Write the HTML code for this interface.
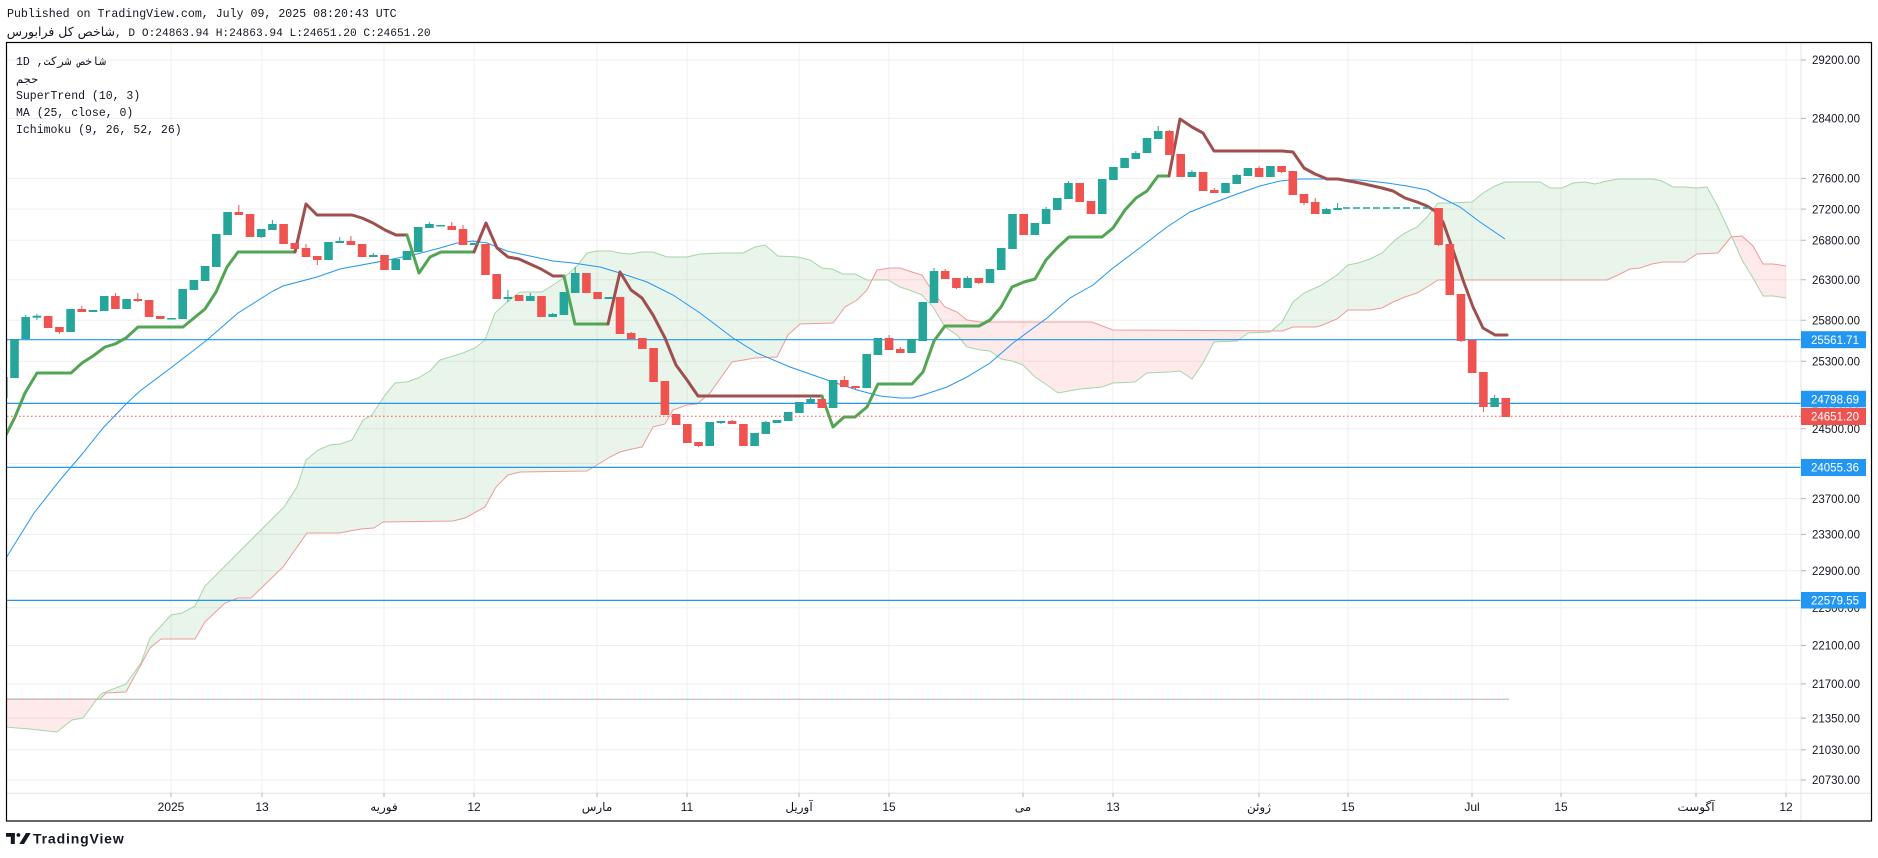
<!DOCTYPE html>
<html><head><meta charset="utf-8"><style>
body{margin:0;width:1878px;height:858px;background:#fff;position:relative;overflow:hidden}
svg{position:absolute;left:0;top:0}
.t{position:absolute;white-space:nowrap;font-family:"Liberation Mono","DejaVu Sans Mono","DejaVu Sans",monospace;color:#131722;line-height:14px}
</style></head><body>
<svg width="1878" height="858" xmlns="http://www.w3.org/2000/svg">
<defs>
<clipPath id="pane"><rect x="7" y="43" width="1794" height="750"/></clipPath>
<clipPath id="belowA"><polygon points="6,727 29,729 57,732 72,720 83,718 100,695 103,693 126,684 141,663 150,638 171,615 182,613 195,606 205,586 241,550 284,507 297,487 306,460 318,450 330,445 340,444 352,440 363,420 372,415 385,395 395,383 407,382 418,378 430,371 440,360 450,357 463,353 475,348 485,340 495,313 507,302 520,292 542,292 553,285 565,277 577,266 587,253 597,251 610,251 620,253 630,254 642,252 653,252 667,257 687,257 700,254 720,253 743,253 755,247 765,245 778,256 798,257 810,260 822,268 832,269 843,274 855,274 867,280 888,280 900,287 912,291 922,295 933,307 945,327 957,335 967,347 980,350 990,351 1001,359 1012,361 1023,365 1035,377 1047,385 1058,393 1080,389 1102,387 1113,383 1135,382 1147,373 1170,372 1180,371 1192,379 1203,363 1214,342 1237,341 1248,333 1270,332 1282,322 1293,302 1304,293 1315,288 1320,286 1337,275 1348,265 1358,263 1370,259 1382,253 1395,240 1405,233 1417,227 1427,217 1438,203 1450,203 1472,202 1483,193 1495,186 1505,182 1540,182 1550,188 1562,188 1573,183 1585,182 1595,184 1607,181 1618,179 1653,179 1662,181 1673,187 1685,187 1697,188 1707,187 1718,207 1731,235 1742,260 1753,278 1763,296 1773,296 1786,298 1786,900 6,900"/></clipPath>
<clipPath id="belowB"><polygon points="6,699 100,699 106,693 126,692 138,670 150,648 161,639 195,639 205,622 225,603 238,598 251,598 283,567 307,533 339,533 361,529 374,528 383,522 453,521 465,518 485,507 496,487 508,475 520,472 587,471 597,465 610,457 620,452 632,449 642,447 653,427 665,424 673,410 687,405 697,404 710,393 732,362 755,358 777,357 788,335 800,324 833,323 845,307 857,300 867,290 877,270 890,268 900,268 912,272 922,275 933,292 945,307 957,312 967,320 980,322 1092,322 1113,330 1282,331 1293,327 1315,327 1320,326 1337,319 1348,310 1370,310 1382,308 1393,302 1405,297 1417,293 1427,287 1438,280 1607,280 1618,275 1630,269 1640,268 1652,264 1663,262 1685,262 1697,254 1718,253 1731,237 1742,236 1753,246 1763,264 1773,264 1786,266 1786,900 6,900"/></clipPath>
</defs>
<rect width="1878" height="858" fill="#fff"/>
<g clip-path="url(#pane)">
<g stroke="#efefef" stroke-width="1">
<path d="M7 60H1801M7 118.4H1801M7 178.4H1801M7 209.1H1801M7 240.2H1801M7 279.8H1801M7 320.2H1801M7 361.3H1801M7 403.2H1801M7 428.8H1801M7 463.4H1801M7 498.6H1801M7 534.4H1801M7 570.8H1801M7 607.8H1801M7 645.5H1801M7 683.9H1801M7 718.1H1801M7 749.8H1801M7 780H1801"/>
<path d="M171 43V793M262 43V793M384 43V793M474 43V793M597 43V793M687 43V793M799 43V793M889 43V793M1023 43V793M1113 43V793M1259 43V793M1348 43V793M1472 43V793M1561 43V793M1696 43V793M1786 43V793"/>
</g>
<polygon clip-path="url(#belowA)" fill="rgba(76,175,80,0.12)" points="6,699 100,699 106,693 126,692 138,670 150,648 161,639 195,639 205,622 225,603 238,598 251,598 283,567 307,533 339,533 361,529 374,528 383,522 453,521 465,518 485,507 496,487 508,475 520,472 587,471 597,465 610,457 620,452 632,449 642,447 653,427 665,424 673,410 687,405 697,404 710,393 732,362 755,358 777,357 788,335 800,324 833,323 845,307 857,300 867,290 877,270 890,268 900,268 912,272 922,275 933,292 945,307 957,312 967,320 980,322 1092,322 1113,330 1282,331 1293,327 1315,327 1320,326 1337,319 1348,310 1370,310 1382,308 1393,302 1405,297 1417,293 1427,287 1438,280 1607,280 1618,275 1630,269 1640,268 1652,264 1663,262 1685,262 1697,254 1718,253 1731,237 1742,236 1753,246 1763,264 1773,264 1786,266 1786,0 6,0"/>
<polygon clip-path="url(#belowB)" fill="rgba(242,54,69,0.11)" points="6,727 29,729 57,732 72,720 83,718 100,695 103,693 126,684 141,663 150,638 171,615 182,613 195,606 205,586 241,550 284,507 297,487 306,460 318,450 330,445 340,444 352,440 363,420 372,415 385,395 395,383 407,382 418,378 430,371 440,360 450,357 463,353 475,348 485,340 495,313 507,302 520,292 542,292 553,285 565,277 577,266 587,253 597,251 610,251 620,253 630,254 642,252 653,252 667,257 687,257 700,254 720,253 743,253 755,247 765,245 778,256 798,257 810,260 822,268 832,269 843,274 855,274 867,280 888,280 900,287 912,291 922,295 933,307 945,327 957,335 967,347 980,350 990,351 1001,359 1012,361 1023,365 1035,377 1047,385 1058,393 1080,389 1102,387 1113,383 1135,382 1147,373 1170,372 1180,371 1192,379 1203,363 1214,342 1237,341 1248,333 1270,332 1282,322 1293,302 1304,293 1315,288 1320,286 1337,275 1348,265 1358,263 1370,259 1382,253 1395,240 1405,233 1417,227 1427,217 1438,203 1450,203 1472,202 1483,193 1495,186 1505,182 1540,182 1550,188 1562,188 1573,183 1585,182 1595,184 1607,181 1618,179 1653,179 1662,181 1673,187 1685,187 1697,188 1707,187 1718,207 1731,235 1742,260 1753,278 1763,296 1773,296 1786,298 1786,0 6,0"/>
<polyline fill="none" stroke="#a5d6a7" stroke-width="1" points="6,727 29,729 57,732 72,720 83,718 100,695 103,693 126,684 141,663 150,638 171,615 182,613 195,606 205,586 241,550 284,507 297,487 306,460 318,450 330,445 340,444 352,440 363,420 372,415 385,395 395,383 407,382 418,378 430,371 440,360 450,357 463,353 475,348 485,340 495,313 507,302 520,292 542,292 553,285 565,277 577,266 587,253 597,251 610,251 620,253 630,254 642,252 653,252 667,257 687,257 700,254 720,253 743,253 755,247 765,245 778,256 798,257 810,260 822,268 832,269 843,274 855,274 867,280 888,280 900,287 912,291 922,295 933,307 945,327 957,335 967,347 980,350 990,351 1001,359 1012,361 1023,365 1035,377 1047,385 1058,393 1080,389 1102,387 1113,383 1135,382 1147,373 1170,372 1180,371 1192,379 1203,363 1214,342 1237,341 1248,333 1270,332 1282,322 1293,302 1304,293 1315,288 1320,286 1337,275 1348,265 1358,263 1370,259 1382,253 1395,240 1405,233 1417,227 1427,217 1438,203 1450,203 1472,202 1483,193 1495,186 1505,182 1540,182 1550,188 1562,188 1573,183 1585,182 1595,184 1607,181 1618,179 1653,179 1662,181 1673,187 1685,187 1697,188 1707,187 1718,207 1731,235 1742,260 1753,278 1763,296 1773,296 1786,298"/>
<polyline fill="none" stroke="#ef9a9a" stroke-width="1" points="6,699 100,699 106,693 126,692 138,670 150,648 161,639 195,639 205,622 225,603 238,598 251,598 283,567 307,533 339,533 361,529 374,528 383,522 453,521 465,518 485,507 496,487 508,475 520,472 587,471 597,465 610,457 620,452 632,449 642,447 653,427 665,424 673,410 687,405 697,404 710,393 732,362 755,358 777,357 788,335 800,324 833,323 845,307 857,300 867,290 877,270 890,268 900,268 912,272 922,275 933,292 945,307 957,312 967,320 980,322 1092,322 1113,330 1282,331 1293,327 1315,327 1320,326 1337,319 1348,310 1370,310 1382,308 1393,302 1405,297 1417,293 1427,287 1438,280 1607,280 1618,275 1630,269 1640,268 1652,264 1663,262 1685,262 1697,254 1718,253 1731,237 1742,236 1753,246 1763,264 1773,264 1786,266"/>
<path d="M7 699.3H1509" stroke="#ef9a9a" stroke-width="1" stroke-dasharray="6 6"/>
<path d="M7 699.3H1509" stroke="#80cbc4" stroke-width="1" stroke-dasharray="6 6" stroke-dashoffset="6"/>
<g stroke="#2196f3" stroke-width="1.2">
<path d="M7 339.7H1801M7 403.4H1801M7 467.4H1801M7 600.4H1801"/>
</g>
<polyline fill="none" stroke="#2196f3" stroke-width="1" points="6,558 34,513 60,480 83,453 103,428 127,403 140,391 172,367 207,340 238,313 273,291 283,286 317,277 340,269 383,261 417,254 440,248 457,243 473,241 487,243 507,251 530,256 553,261 573,263 600,267 620,273 647,282 673,295 700,313 733,338 757,353 790,367 830,381 857,390 880,396 900,398 912,398 923,395 947,387 967,377 990,363 1013,343 1047,318 1070,298 1093,285 1113,268 1137,250 1167,227 1190,212 1213,203 1237,194 1260,186 1280,181 1300,179 1320,179 1360,180 1387,183 1407,186 1427,190 1440,197 1460,207 1480,222 1505,239"/>
<g fill="none" stroke-width="3" stroke-linejoin="round" stroke-linecap="round">
<polyline stroke="#52a653" points="6,435 15,417 25,393 37,373 71,373 82,363 93,356 105,347 115,344 126,338 138,327 183,327 194,318 205,309 216,292 227,267 238,252 295,252"/>
<polyline stroke="#a04f4f" points="295,252 306,204 317,215 352,215 362,218 373,223 385,230 396,235 407,235"/>
<polyline stroke="#52a653" points="407,235 419,273 430,257 441,252 474,252"/>
<polyline stroke="#a04f4f" points="474,252 486,223 497,248 508,257 519,259 530,264 541,269 553,276 564,276"/>
<polyline stroke="#52a653" points="564,276 575,324 608,324"/>
<polyline stroke="#a04f4f" points="608,324 620,272 631,290 642,298 653,315 665,338 676,365 687,380 698,396 822,396"/>
<polyline stroke="#52a653" points="822,396 833,427 844,417 855,417 867,407 878,384 912,384 923,372 934,341 945,326 979,326 990,320 1001,307 1012,287 1024,282 1035,279 1046,260 1057,248 1069,237 1102,237 1113,228 1125,210 1136,198 1147,191 1158,176 1169,176"/>
<polyline stroke="#a04f4f" points="1169,176 1180,119 1192,127 1203,133 1214,151 1282,151 1293,152 1304,168 1315,174 1320,176 1327,179 1338,179 1360,183 1382,188 1393,191 1405,198 1417,202 1427,206 1435,211 1443,222 1453,250 1463,280 1473,307 1483,328 1495,335 1507,335"/>
</g>
<path d="M1343 208H1433" stroke="#26a69a" stroke-width="1.5" stroke-dasharray="7 3"/>
<path stroke="#26a69a" stroke-width="1" d="M25.7 315V317M36.9 314V320M261.2 237V238M272.4 220V224M339.7 237V241M373.3 253V255M429.4 222V224M507.9 290V302M530.3 293V296M552.7 313V314M575.2 267V273M720.9 423V424M765.8 421V422M810.6 396V399M934 268V271M967.6 276V278M1046.1 207V209M1068.5 181V183M1135.8 151V153M1158.2 126V131M1191.9 170V172M1236.7 174V175M1326.4 208V209M1337.6 203V208M1494.6 395V398"/>
<path stroke="#ef5350" stroke-width="1" d="M59.4 332V334M81.8 306V309M115.4 293V296M137.8 293V302M238.8 205V212M306 244V248M317.3 260V265M350.9 236V241M451.8 222V226M463 225V229M631.2 332V333M698.5 446V447M732.1 420V421M844.3 376V380M855.5 388V390M889.1 335V338M900.3 347V349M945.2 269V271M956.4 288V289M978.8 283V284M1169.4 130V131M1214.3 188V190M1259.1 166V168M1281.6 172V173M1304 203V205M1315.2 198V202M1438.6 245V246M1461 341V342M1483.4 407V412"/>
<g fill="#26a69a">
<rect x="-1" y="377" width="8.6" height="21"/>
<rect x="10.2" y="339" width="8.6" height="39"/>
<rect x="21.4" y="317" width="8.6" height="22"/>
<rect x="32.6" y="315.7" width="8.6" height="2"/>
<rect x="66.3" y="309" width="8.6" height="23"/>
<rect x="88.7" y="310" width="8.6" height="2"/>
<rect x="99.9" y="296" width="8.6" height="15"/>
<rect x="122.3" y="299" width="8.6" height="10"/>
<rect x="167.2" y="318" width="8.6" height="1.5"/>
<rect x="178.4" y="289" width="8.6" height="30"/>
<rect x="189.6" y="280" width="8.6" height="10"/>
<rect x="200.8" y="266" width="8.6" height="15"/>
<rect x="212" y="234" width="8.6" height="33"/>
<rect x="223.3" y="212" width="8.6" height="23"/>
<rect x="256.9" y="229" width="8.6" height="8"/>
<rect x="268.1" y="224" width="8.6" height="6"/>
<rect x="324.2" y="242" width="8.6" height="18"/>
<rect x="335.4" y="241" width="8.6" height="2"/>
<rect x="369" y="255" width="8.6" height="2"/>
<rect x="391.4" y="259" width="8.6" height="11"/>
<rect x="402.7" y="251" width="8.6" height="9"/>
<rect x="413.9" y="227" width="8.6" height="25"/>
<rect x="425.1" y="224" width="8.6" height="4"/>
<rect x="436.3" y="225" width="8.6" height="1.5"/>
<rect x="469.9" y="243" width="8.6" height="2"/>
<rect x="503.6" y="297" width="8.6" height="2"/>
<rect x="526" y="296" width="8.6" height="5"/>
<rect x="548.4" y="314" width="8.6" height="3"/>
<rect x="559.6" y="292" width="8.6" height="23"/>
<rect x="570.9" y="273" width="8.6" height="20"/>
<rect x="604.5" y="297" width="8.6" height="2"/>
<rect x="705.4" y="422" width="8.6" height="24"/>
<rect x="716.6" y="421" width="8.6" height="2"/>
<rect x="750.3" y="433" width="8.6" height="13"/>
<rect x="761.5" y="422" width="8.6" height="12"/>
<rect x="772.7" y="420" width="8.6" height="3"/>
<rect x="783.9" y="412" width="8.6" height="9"/>
<rect x="795.1" y="402" width="8.6" height="11"/>
<rect x="806.3" y="399" width="8.6" height="4"/>
<rect x="828.8" y="380" width="8.6" height="28"/>
<rect x="862.4" y="354" width="8.6" height="34"/>
<rect x="873.6" y="338" width="8.6" height="17"/>
<rect x="907.2" y="339" width="8.6" height="14"/>
<rect x="918.5" y="302" width="8.6" height="39"/>
<rect x="929.7" y="271" width="8.6" height="32"/>
<rect x="963.3" y="278" width="8.6" height="10"/>
<rect x="985.7" y="269" width="8.6" height="14"/>
<rect x="996.9" y="248" width="8.6" height="22"/>
<rect x="1008.2" y="214" width="8.6" height="35"/>
<rect x="1030.6" y="223" width="8.6" height="12"/>
<rect x="1041.8" y="209" width="8.6" height="15"/>
<rect x="1053" y="198" width="8.6" height="12"/>
<rect x="1064.2" y="183" width="8.6" height="16"/>
<rect x="1097.9" y="179" width="8.6" height="35"/>
<rect x="1109.1" y="167" width="8.6" height="13"/>
<rect x="1120.3" y="158" width="8.6" height="10"/>
<rect x="1131.5" y="153" width="8.6" height="6"/>
<rect x="1142.7" y="138" width="8.6" height="15"/>
<rect x="1153.9" y="131" width="8.6" height="8"/>
<rect x="1187.6" y="172" width="8.6" height="5"/>
<rect x="1221.2" y="183" width="8.6" height="10"/>
<rect x="1232.4" y="175" width="8.6" height="9"/>
<rect x="1243.6" y="168" width="8.6" height="8"/>
<rect x="1266.1" y="166" width="8.6" height="11"/>
<rect x="1322.1" y="209" width="8.6" height="5"/>
<rect x="1333.3" y="208" width="8.6" height="2"/>
<rect x="1490.3" y="398" width="8.6" height="9"/>
</g>
<g fill="#ef5350">
<rect x="43.8" y="316" width="8.6" height="12"/>
<rect x="55.1" y="327" width="8.6" height="5"/>
<rect x="77.5" y="309" width="8.6" height="3"/>
<rect x="111.1" y="296" width="8.6" height="13"/>
<rect x="133.5" y="299" width="8.6" height="2"/>
<rect x="144.8" y="300" width="8.6" height="17"/>
<rect x="156" y="316" width="8.6" height="3"/>
<rect x="234.5" y="212" width="8.6" height="3"/>
<rect x="245.7" y="214" width="8.6" height="23"/>
<rect x="279.3" y="224" width="8.6" height="20"/>
<rect x="290.5" y="243" width="8.6" height="6"/>
<rect x="301.7" y="248" width="8.6" height="9"/>
<rect x="313" y="256" width="8.6" height="4"/>
<rect x="346.6" y="241" width="8.6" height="4"/>
<rect x="357.8" y="244" width="8.6" height="13"/>
<rect x="380.2" y="255" width="8.6" height="15"/>
<rect x="447.5" y="226" width="8.6" height="4"/>
<rect x="458.7" y="229" width="8.6" height="16"/>
<rect x="481.2" y="244" width="8.6" height="31"/>
<rect x="492.4" y="274" width="8.6" height="25"/>
<rect x="514.8" y="295" width="8.6" height="6"/>
<rect x="537.2" y="296" width="8.6" height="21"/>
<rect x="582.1" y="273" width="8.6" height="20"/>
<rect x="593.3" y="292" width="8.6" height="7"/>
<rect x="615.7" y="297" width="8.6" height="37"/>
<rect x="626.9" y="333" width="8.6" height="6"/>
<rect x="638.1" y="338" width="8.6" height="11"/>
<rect x="649.3" y="348" width="8.6" height="34"/>
<rect x="660.6" y="381" width="8.6" height="34"/>
<rect x="671.8" y="414" width="8.6" height="11"/>
<rect x="683" y="424" width="8.6" height="19"/>
<rect x="694.2" y="442" width="8.6" height="4"/>
<rect x="727.8" y="421" width="8.6" height="3"/>
<rect x="739.1" y="424" width="8.6" height="22"/>
<rect x="817.5" y="399" width="8.6" height="9"/>
<rect x="840" y="380" width="8.6" height="7"/>
<rect x="851.2" y="386" width="8.6" height="2"/>
<rect x="884.8" y="338" width="8.6" height="12"/>
<rect x="896" y="349" width="8.6" height="4"/>
<rect x="940.9" y="271" width="8.6" height="8"/>
<rect x="952.1" y="278" width="8.6" height="10"/>
<rect x="974.5" y="278" width="8.6" height="5"/>
<rect x="1019.4" y="214" width="8.6" height="21"/>
<rect x="1075.4" y="183" width="8.6" height="19"/>
<rect x="1086.7" y="201" width="8.6" height="13"/>
<rect x="1165.1" y="131" width="8.6" height="24"/>
<rect x="1176.4" y="154" width="8.6" height="23"/>
<rect x="1198.8" y="172" width="8.6" height="19"/>
<rect x="1210" y="190" width="8.6" height="3"/>
<rect x="1254.8" y="168" width="8.6" height="9"/>
<rect x="1277.3" y="166" width="8.6" height="6"/>
<rect x="1288.5" y="171" width="8.6" height="24"/>
<rect x="1299.7" y="194" width="8.6" height="9"/>
<rect x="1310.9" y="202" width="8.6" height="12"/>
<rect x="1434.3" y="208" width="8.6" height="37"/>
<rect x="1445.5" y="244" width="8.6" height="51"/>
<rect x="1456.7" y="294" width="8.6" height="47"/>
<rect x="1467.9" y="340" width="8.6" height="33"/>
<rect x="1479.1" y="372" width="8.6" height="35"/>
<rect x="1501.5" y="398" width="8.6" height="19"/>
</g>
<path d="M7 416.3H1801" stroke="#ef5350" stroke-width="1" stroke-dasharray="1.5 2.5"/>
</g>
<path d="M1801 43V821M7 793.3H1872" stroke="#e0e3eb" stroke-width="1"/>
<path stroke="#b2b5be" stroke-width="1" d="M1801 60H1806M1801 118.4H1806M1801 178.4H1806M1801 209.1H1806M1801 240.2H1806M1801 279.8H1806M1801 320.2H1806M1801 361.3H1806M1801 428.8H1806M1801 498.6H1806M1801 534.4H1806M1801 570.8H1806M1801 645.5H1806M1801 683.9H1806M1801 718.1H1806M1801 749.8H1806M1801 780H1806M171 793V797M262 793V797M384 793V797M474 793V797M597 793V797M687 793V797M799 793V797M889 793V797M1023 793V797M1113 793V797M1259 793V797M1348 793V797M1472 793V797M1561 793V797M1696 793V797M1786 793V797"/>
<g font-family="Liberation Sans, DejaVu Sans, sans-serif" font-size="11.5" fill="#131722">
<text x="1812" y="64.2">29200.00</text>
<text x="1812" y="122.6">28400.00</text>
<text x="1812" y="182.6">27600.00</text>
<text x="1812" y="213.3">27200.00</text>
<text x="1812" y="244.4">26800.00</text>
<text x="1812" y="284">26300.00</text>
<text x="1812" y="324.4">25800.00</text>
<text x="1812" y="365.5">25300.00</text>
<text x="1812" y="407.4">24800.00</text>
<text x="1812" y="433">24500.00</text>
<text x="1812" y="467.6">24100.00</text>
<text x="1812" y="502.8">23700.00</text>
<text x="1812" y="538.6">23300.00</text>
<text x="1812" y="575">22900.00</text>
<text x="1812" y="612">22500.00</text>
<text x="1812" y="649.7">22100.00</text>
<text x="1812" y="688.1">21700.00</text>
<text x="1812" y="722.3">21350.00</text>
<text x="1812" y="754">21030.00</text>
<text x="1812" y="784.2">20730.00</text>
</g>
<g>
<rect x="1801" y="331.2" width="65" height="17" fill="#2196f3"/>
<rect x="1801" y="390.8" width="65" height="16.5" fill="#2196f3"/>
<rect x="1801" y="408" width="65" height="17" fill="#ef5350"/>
<rect x="1801" y="459" width="65" height="17" fill="#2196f3"/>
<rect x="1801" y="592" width="65" height="16.5" fill="#2196f3"/>
</g>
<g font-family="Liberation Sans, DejaVu Sans, sans-serif" font-size="11.5" fill="#fff">
<text x="1811" y="344">25561.71</text>
<text x="1811" y="403.3">24798.69</text>
<text x="1811" y="420.7">24651.20</text>
<text x="1811" y="471.7">24055.36</text>
<text x="1811" y="604.5">22579.55</text>
</g>
<g font-family="Liberation Sans, DejaVu Sans, sans-serif" font-size="12" fill="#131722" text-anchor="middle">
<text x="171" y="811">2025</text>
<text x="262" y="811">13</text>
<text x="384" y="811">فوریه</text>
<text x="474" y="811">12</text>
<text x="597" y="811">مارس</text>
<text x="687" y="811">11</text>
<text x="799" y="811">آوریل</text>
<text x="889" y="811">15</text>
<text x="1023" y="811">می</text>
<text x="1113" y="811">13</text>
<text x="1259" y="811">ژوئن</text>
<text x="1348" y="811">15</text>
<text x="1472" y="811">Jul</text>
<text x="1561" y="811">15</text>
<text x="1696" y="811">آگوست</text>
<text x="1786" y="811">12</text>
</g>
<rect x="6.5" y="42.5" width="1865" height="778.5" fill="none" stroke="#000" stroke-width="1.2"/>
<g fill="#131722">
<rect x="6" y="833" width="8.8" height="3.8"/>
<rect x="10.8" y="833" width="4" height="11"/>
<circle cx="18.4" cy="835" r="1.9"/>
<polygon points="19.3,844 24,844 30.7,833 26,833"/>
<text x="33" y="843.5" font-family="Liberation Sans, DejaVu Sans, sans-serif" font-weight="bold" font-size="14" letter-spacing="0.85">TradingView</text>
</g>
</svg>
<div class="t" style="left:7px;top:8px;font-size:11.6px">Published on TradingView.com, July 09, 2025 08:20:43 UTC</div>
<div class="t" style="left:7px;top:25px;font-size:11.2px"><span dir="rtl" style="display:inline-block;width:108px;text-align:right;font-family:'DejaVu Sans',sans-serif;font-size:12.5px">شاخص کل فرابورس</span>, D O:24863.94 H:24863.94 L:24651.20 C:24651.20</div>
<div class="t" dir="rtl" style="left:16px;top:56px;font-size:11.5px">شاخص شرکت, 1D</div>
<div class="t" style="left:16px;top:72px;font-size:11.5px;font-family:'DejaVu Sans',sans-serif">حجم</div>
<div class="t" style="left:16px;top:90px;font-size:11.5px">SuperTrend (10, 3)</div>
<div class="t" style="left:16px;top:107px;font-size:11.5px">MA (25, close, 0)</div>
<div class="t" style="left:16px;top:124px;font-size:11.5px">Ichimoku (9, 26, 52, 26)</div>
</body></html>
